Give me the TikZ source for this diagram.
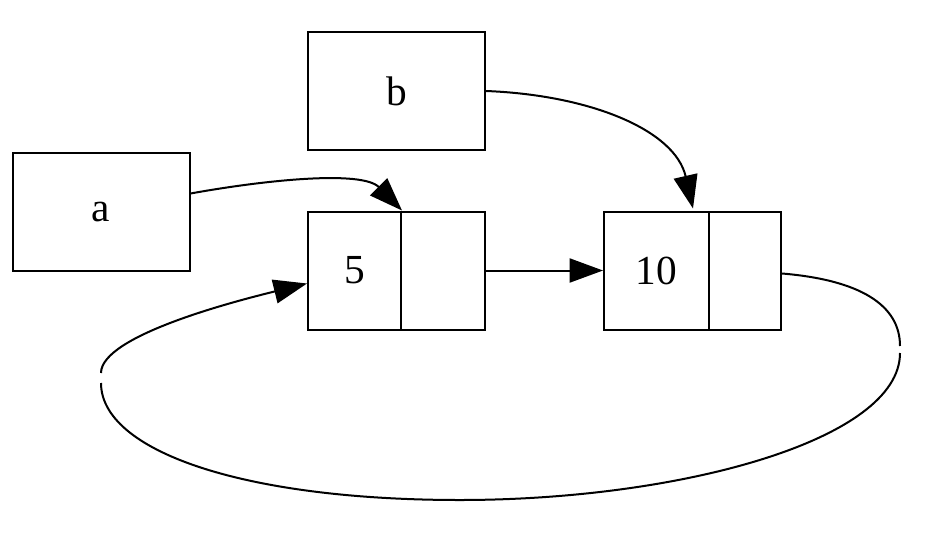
\documentclass[tikz,border=0pt]{standalone}
\usepackage{fontspec}
\setmainfont{Liberation Serif}
\usetikzlibrary{arrows.meta,calc}
\begin{document}
\begin{tikzpicture}[x=0.75pt,y=-0.75pt,
  box/.style={draw,line width=1.5pt,inner sep=0pt,minimum height=88.5pt,font=\fontsize{31}{34}\selectfont},
  conn/.style={line width=1.5pt},
  tip/.style={-{Triangle[length=25pt,width=18pt]}}]
\useasboundingbox (0,0) rectangle (938,550);
\node[box,minimum width=132.75pt] (a) at (101,211.5) {a};
\node[box,minimum width=132.75pt] (b) at (396.5,91) {b};
\node[box,minimum width=69.75pt] (n5l) at (354.5,270.5) {5};
\node[box,minimum width=63pt] (n5r) at (443,270.5) {};
\node[box,minimum width=78.75pt] (n10l) at (656.5,270.5) {10};
\node[box,minimum width=54pt] (n10r) at (745,270.5) {};
\coordinate (g1) at (900,346);
\coordinate (g2) at (900,353);
\coordinate (g3) at (101,383);
\coordinate (g4) at (101,373);
\draw[conn,tip] ($(a.east)+(0,-18)$) .. controls (265,180) and (362,170) .. (n5l.north east);
\draw[conn,tip] ($(b.east)+(0,0)$) .. controls (590,95) and (675,130) .. ($(n10l.north east)+(-17,-2)$);
\draw[conn,tip] (n5r.east) -- (n10l.west);
\draw[conn] ($(n10r.east)+(0,3)$) .. controls (860,280) and (900,305) .. (g1);
\draw[conn] (g2) .. controls (900,440) and (680,500) .. (460,500)
  .. controls (240,500) and (101,450) .. (g3);
\draw[conn,tip] (g4) .. controls (101,335) and (240,300) .. ($(n5l.west)+(0,13)$);
\end{tikzpicture}
\end{document}
